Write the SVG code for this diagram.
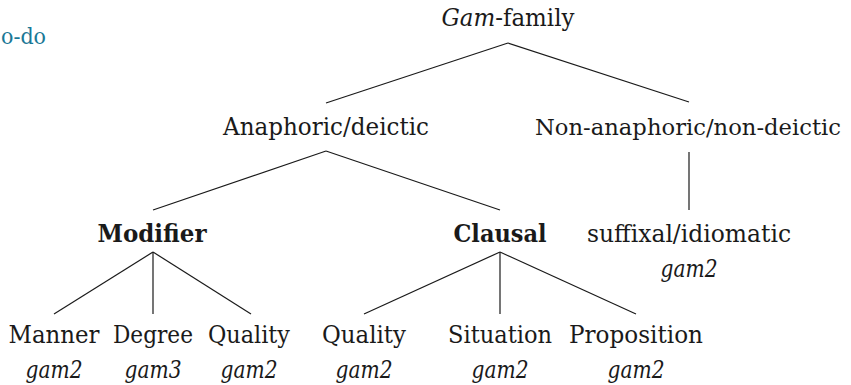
<svg xmlns="http://www.w3.org/2000/svg" width="851" height="385" viewBox="0 0 851 385">
<style>
text{font-family:'DejaVu Serif',serif;font-size:25px;fill:#1a1a1a;text-anchor:middle}
.b{font-weight:bold}
.i{font-style:italic}
.link{fill:#1a7896;text-anchor:start;font-size:22px}
line{stroke:#1a1a1a;stroke-width:1.2;fill:none}
</style>
<rect width="851" height="385" fill="#ffffff"/>
<text class="link" x="1" y="44" textLength="45" lengthAdjust="spacingAndGlyphs">o-do</text>
<g id="connectors">
<line x1="508" y1="43" x2="326" y2="103"/>
<line x1="508" y1="43" x2="689" y2="102"/>
<line x1="326" y1="151" x2="153" y2="210"/>
<line x1="326" y1="151" x2="500" y2="210"/>
<line x1="689" y1="152" x2="689" y2="210"/>
<line x1="153" y1="252" x2="54" y2="314"/>
<line x1="153" y1="252" x2="153" y2="314"/>
<line x1="153" y1="252" x2="251" y2="314"/>
<line x1="500" y1="252" x2="364" y2="314"/>
<line x1="500" y1="252" x2="500" y2="314"/>
<line x1="500" y1="252" x2="636" y2="314"/>
</g>
<g id="root"><text x="508" y="26" textLength="133" lengthAdjust="spacingAndGlyphs"><tspan class="i">Gam</tspan>-family</text></g>
<g id="anaphoric"><text x="326" y="135" textLength="206" lengthAdjust="spacingAndGlyphs">Anaphoric/deictic</text></g>
<g id="nonanaphoric"><text x="688" y="135" style="font-size:23px" textLength="306" lengthAdjust="spacingAndGlyphs">Non-anaphoric/non-deictic</text></g>
<g id="modifier"><text class="b" x="152" y="242" textLength="109" lengthAdjust="spacingAndGlyphs">Modifier</text></g>
<g id="clausal"><text class="b" x="500" y="242" textLength="93" lengthAdjust="spacingAndGlyphs">Clausal</text></g>
<g id="suffixal"><text x="689" y="242" textLength="204" lengthAdjust="spacingAndGlyphs">suffixal/idiomatic</text><text class="i" x="689" y="277" textLength="57" lengthAdjust="spacingAndGlyphs">gam2</text></g>
<g id="manner"><text x="54" y="343" textLength="91" lengthAdjust="spacingAndGlyphs">Manner</text><text class="i" x="54" y="378" textLength="57" lengthAdjust="spacingAndGlyphs">gam2</text></g>
<g id="degree"><text x="153" y="343" textLength="80" lengthAdjust="spacingAndGlyphs">Degree</text><text class="i" x="153" y="378" textLength="57" lengthAdjust="spacingAndGlyphs">gam3</text></g>
<g id="quality1"><text x="249" y="343" textLength="82" lengthAdjust="spacingAndGlyphs">Quality</text><text class="i" x="249" y="378" textLength="57" lengthAdjust="spacingAndGlyphs">gam2</text></g>
<g id="quality2"><text x="364" y="343" textLength="84" lengthAdjust="spacingAndGlyphs">Quality</text><text class="i" x="364" y="378" textLength="57" lengthAdjust="spacingAndGlyphs">gam2</text></g>
<g id="situation"><text x="500" y="343" textLength="104" lengthAdjust="spacingAndGlyphs">Situation</text><text class="i" x="500" y="378" textLength="57" lengthAdjust="spacingAndGlyphs">gam2</text></g>
<g id="proposition"><text x="636" y="343" textLength="134" lengthAdjust="spacingAndGlyphs">Proposition</text><text class="i" x="636" y="378" textLength="57" lengthAdjust="spacingAndGlyphs">gam2</text></g>
</svg>
